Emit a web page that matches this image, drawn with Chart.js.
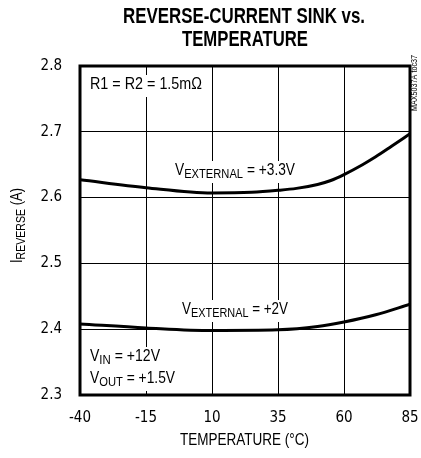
<!DOCTYPE html>
<html>
<head>
<meta charset="utf-8">
<script src="https://cdn.jsdelivr.net/npm/chart.js@4/dist/chart.umd.min.js"></script>
<style>
  html, body { margin: 0; padding: 0; background: #fff; }
  canvas { display: block; }
</style>
</head>
<body>
<canvas id="chart" width="421" height="458"></canvas>
<script>
// temperature in °C, reverse current in A
const tempsExt33 = [-40, -15, 10, 25, 35, 42, 50, 55, 60, 67, 72, 78, 85];
const iRevExt33 = [2.627, 2.615, 2.607, 2.608, 2.611, 2.614, 2.620, 2.626, 2.635, 2.650, 2.662, 2.678, 2.697];
const tempsExt2 = [-40, -15, 10, 35, 50, 60, 72, 85];
const iRevExt2 = [2.408, 2.402, 2.398, 2.399, 2.404, 2.411, 2.422, 2.438];
const xTicks = [-40, -15, 10, 35, 60, 85];
const yTicks = [2.3, 2.4, 2.5, 2.6, 2.7, 2.8];

const FONT = '"Liberation Sans", Arial, sans-serif';
const TICK_FONT = '"DejaVu Sans Condensed", "Liberation Sans", sans-serif';

// draw a run of text pieces (normal / subscript), squeezed to width tw
function drawRich(ctx, x, y, parts, withBg, tw, bold) {
    const pre = bold ? 'bold ' : '';
    let total = 0;
    parts.forEach(p => {
        ctx.font = pre + p.size + 'px ' + FONT;
        p.w = ctx.measureText(p.t).width;
        total += p.w;
    });
    const sx = tw ? tw / total : 1;
    if (withBg) {
        ctx.fillStyle = '#fff';
        ctx.fillRect(x - 3, y - 10, total * sx + 6, 22);
    }
    ctx.save();
    ctx.translate(x, y);
    ctx.scale(sx, 1);
    ctx.fillStyle = '#000';
    ctx.textBaseline = 'middle';
    ctx.textAlign = 'left';
    let cx = 0;
    parts.forEach(p => {
        ctx.font = pre + p.size + 'px ' + FONT;
        ctx.fillText(p.t, cx, p.dy || 0);
        cx += p.w;
    });
    ctx.restore();
}

function sub(main, low, rest) {
    return [{ t: main, size: 16 }, { t: low, size: 13, dy: 3 }, { t: rest, size: 16 }];
}

const labelsPlugin = {
    id: 'labels',
    beforeDatasetsDraw(chart) {
        const ctx = chart.ctx;
        drawRich(ctx, 90, 85, [{ t: 'R1 = R2 = 1.5m\u03A9', size: 16 }], true, 112);
        drawRich(ctx, 175, 171, sub('V', 'EXTERNAL', ' = +3.3V'), true, 120);
        drawRich(ctx, 182, 310, sub('V', 'EXTERNAL', ' = +2V'), true, 106);
        drawRich(ctx, 90, 357, sub('V', 'IN', ' = +12V'), true, 70);
        drawRich(ctx, 90, 379, sub('V', 'OUT', ' = +1.5V'), true, 85);
    },
    afterDraw(chart) {
        const ctx = chart.ctx;
        const a = chart.chartArea;
        ctx.save();
        // frame
        ctx.strokeStyle = '#000';
        ctx.lineWidth = 3;
        ctx.strokeRect(a.left, a.top, a.right - a.left, a.bottom - a.top);
        ctx.restore();

        // title
        drawRich(ctx, 123, 17, [{ t: 'REVERSE-CURRENT SINK vs.', size: 22 }], false, 242, true);
        drawRich(ctx, 182, 40, [{ t: 'TEMPERATURE', size: 22 }], false, 126, true);

        // x axis title
        drawRich(ctx, 180, 441, [{ t: 'TEMPERATURE (\u00B0C)', size: 16 }], false, 129);

        // y axis title
        ctx.save();
        ctx.translate(18, 226);
        ctx.rotate(-Math.PI / 2);
        drawRich(ctx, -37, 0, [{ t: 'I', size: 16 }, { t: 'REVERSE', size: 13, dy: 3 }, { t: ' (A)', size: 16 }], false, 75);
        ctx.restore();

        // part id
        ctx.save();
        ctx.translate(415, 83);
        ctx.rotate(-Math.PI / 2);
        drawRich(ctx, -28, 0, [{ t: 'MAX5037A toc37', size: 9 }], false, 56);
        ctx.restore();
    }
};

new Chart(document.getElementById('chart'), {
    type: 'line',
    data: {
        datasets: [
            {
                label: 'VEXTERNAL = +3.3V',
                data: tempsExt33.map((t, i) => ({ x: t, y: iRevExt33[i] })),
                borderColor: '#000',
                borderWidth: 3,
                pointRadius: 0,
                cubicInterpolationMode: 'monotone'
            },
            {
                label: 'VEXTERNAL = +2V',
                data: tempsExt2.map((t, i) => ({ x: t, y: iRevExt2[i] })),
                borderColor: '#000',
                borderWidth: 3,
                pointRadius: 0,
                cubicInterpolationMode: 'monotone'
            }
        ]
    },
    options: {
        responsive: false,
        animation: false,
        layout: { padding: { top: 66, right: 11, left: 0, bottom: 0 } },
        plugins: {
            legend: { display: false },
            tooltip: { enabled: false },
            title: { display: false }
        },
        scales: {
            x: {
                type: 'linear',
                min: -40,
                max: 85,
                afterBuildTicks: s => { s.ticks = xTicks.map(v => ({ value: v })); },
                afterFit: s => { s.height = 63; s.paddingLeft = 0; s.paddingRight = 0; },
                grid: { color: '#000', lineWidth: 1, drawTicks: false },
                border: { display: false },
                ticks: {
                    color: '#000',
                    padding: 14,
                    maxRotation: 0,
                    font: { family: TICK_FONT, size: 15 }
                }
            },
            y: {
                min: 2.3,
                max: 2.8,
                afterBuildTicks: s => { s.ticks = yTicks.map(v => ({ value: v })); },
                afterFit: s => { s.width = 80; s.paddingTop = 0; s.paddingBottom = 0; },
                grid: { color: '#000', lineWidth: 1, drawTicks: false },
                border: { display: false },
                ticks: {
                    color: '#000',
                    padding: 18,
                    font: { family: TICK_FONT, size: 15 },
                    callback: v => v.toFixed(1)
                }
            }
        }
    },
    plugins: [labelsPlugin]
});
</script>
</body>
</html>
